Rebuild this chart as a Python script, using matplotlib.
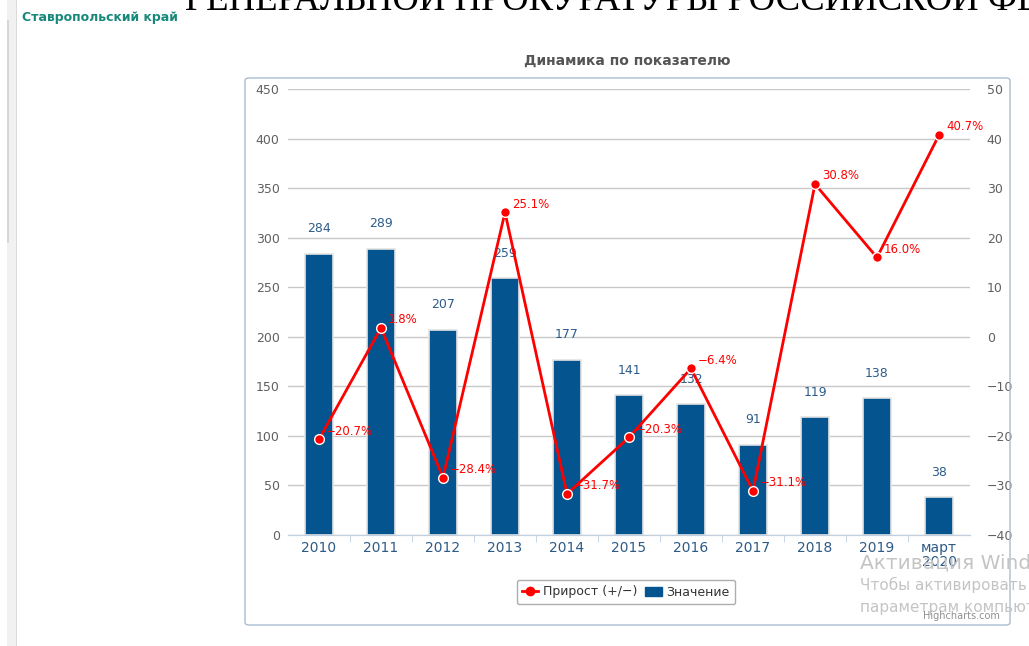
import matplotlib
matplotlib.use("Agg")
import matplotlib.pyplot as plt
from matplotlib.lines import Line2D
from matplotlib.patches import Patch, FancyBboxPatch, Rectangle

# data
categories = ["2010", "2011", "2012", "2013", "2014", "2015",
              "2016", "2017", "2018", "2019", "март\n2020"]
values = [284, 289, 207, 259, 177, 141, 132, 91, 119, 138, 38]
growth = [-20.7, 1.8, -28.4, 25.1, -31.7, -20.3, -6.4, -31.1, 30.8, 16.0, 40.7]
left_ticks = [0, 50, 100, 150, 200, 250, 300, 350, 400, 450]
right_ticks = [-40, -30, -20, -10, 0, 10, 20, 30, 40, 50]

W, H = 1029, 646
BAR = "#03548f"
RED = "#ff0000"

plt.rcParams["font.family"] = ["DejaVu Sans"]
fig = plt.figure(figsize=(W / 100, H / 100), dpi=100)


def fx(px):
    return px / W


def fy(py):
    return 1 - py / H


# page decorations
fig.patches.append(Rectangle((fx(7), 0), fx(9), 1, transform=fig.transFigure,
                             facecolor="#f1f1f1", edgecolor="none"))
fig.patches.append(Rectangle((fx(7), fy(243)), fx(1.5), fy(20) - fy(243),
                             transform=fig.transFigure, facecolor="#d6d6d6",
                             edgecolor="none"))
fig.patches.append(Rectangle((fx(16), 0), fx(1), 1, transform=fig.transFigure,
                             facecolor="#dadada", edgecolor="none"))
fig.text(fx(185), fy(10), "ГЕНЕРАЛЬНОЙ ПРОКУРАТУРЫ РОССИЙСКОЙ ФЕДЕРАЦИИ",
         family="Liberation Serif", fontsize=26.5, color="black", va="baseline")
fig.text(fx(22), fy(18), "Ставропольский край", fontsize=9, color="#17887a",
         fontweight="bold", va="center")

# chart box
fig.patches.append(FancyBboxPatch((fx(245), fy(625)), fx(765), fy(78) - fy(625),
                                  boxstyle="round,pad=0,rounding_size=0.004",
                                  transform=fig.transFigure, facecolor="none",
                                  edgecolor="#a9bdd2", linewidth=1))
fig.text(fx(627), fy(61), "Динамика по показателю", fontsize=10,
         fontweight="bold", color="#555555", ha="center", va="center")

ax = fig.add_axes([fx(288), fy(535), fx(682), fy(89) - fy(535)])
ax2 = ax.twinx()

x = list(range(len(categories)))
ax.bar(x, values, width=0.44, color=BAR, edgecolor="#e4e4e4", linewidth=1.2,
       zorder=2)
for xi, v in zip(x, values):
    ax.annotate(str(v), (xi, v), xytext=(0, 18), textcoords="offset points",
                ha="center", va="center", fontsize=9, color="#2d5c8a")

ax.set_xlim(-0.5, len(categories) - 0.5)
ax.set_ylim(0, 450)
ax.set_yticks(left_ticks)
ax.grid(axis="y", color="#c8c8c8", linewidth=1, zorder=0)
ax.set_axisbelow(True)
ax.set_xticks(x)
ax.set_xticklabels(categories, fontsize=10, color="#2e5a86", linespacing=1.0)
ax.set_xticks([i + 0.5 for i in x[:-1]], minor=True)
ax.tick_params(axis="x", which="major", length=0, pad=4)
ax.tick_params(axis="x", which="minor", length=5, color="#c0d0e0")
ax.tick_params(axis="y", length=0, labelsize=9, labelcolor="#606060", pad=6)

ax2.plot(x, growth, color=RED, linewidth=2, marker="o", markersize=7,
         markerfacecolor=RED, markeredgecolor="white", markeredgewidth=1,
         zorder=3)
for xi, g in zip(x, growth):
    ax2.annotate(f"{g:.1f}%".replace("-", "\u2212"), (xi, g), xytext=(5, 6),
                 textcoords="offset points", ha="left", va="center",
                 fontsize=8.5, color=RED)
ax2.set_ylim(-40, 50)
ax2.set_yticks(right_ticks)
ax2.set_yticklabels([str(t).replace("-", "\u2212") for t in right_ticks])
ax2.tick_params(axis="y", length=0, labelsize=9, labelcolor="#606060", pad=12)

for a in (ax, ax2):
    for side in ("top", "left", "right"):
        a.spines[side].set_visible(False)
    a.spines["bottom"].set_color("#c0d0e0")

handles = [Line2D([0], [0], color=RED, linewidth=2, marker="o", markersize=6),
           Patch(facecolor=BAR, edgecolor=BAR)]
leg = fig.legend(handles, ["Прирост (+/\u2212)", "Значение"], ncol=2,
                 loc="center", bbox_to_anchor=(fx(626), fy(592)),
                 fontsize=9, frameon=True, fancybox=True, handlelength=1.3,
                 handletextpad=0.4, columnspacing=0.6, borderpad=0.45)
leg.get_frame().set_edgecolor("#999999")
leg.get_frame().set_linewidth(1)
for t in leg.get_texts():
    t.set_color("#333333")

# watermark and credit
fig.text(fx(860), fy(568), "Активация Windows", fontsize=14.5,
         color="#c4c4c4", va="baseline")
fig.text(fx(860), fy(590), "Чтобы активировать Windows", fontsize=11,
         color="#c4c4c4", va="baseline")
fig.text(fx(860), fy(612), "параметрам компьютера", fontsize=11,
         color="#c4c4c4", va="baseline")
fig.text(fx(1000), fy(616), "Highcharts.com", fontsize=7, color="#909090",
         ha="right", va="center")

fig.savefig("out.png", dpi=100)
